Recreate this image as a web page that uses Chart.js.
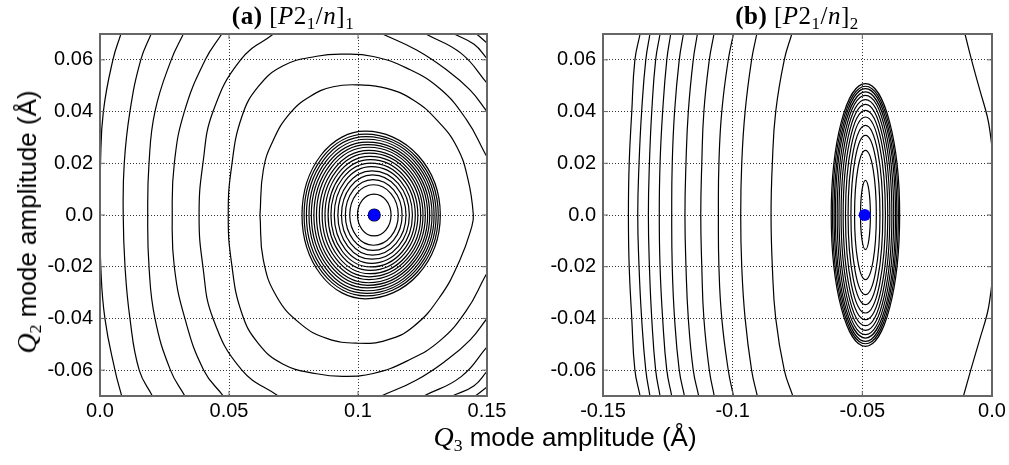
<!DOCTYPE html>
<html>
<head>
<meta charset="utf-8">
<script src="https://cdn.jsdelivr.net/npm/chart.js@4.4.1/dist/chart.umd.min.js"></script>
<style>
  body { margin: 0; background: #fff; }
  #wrap { position: relative; width: 1009px; height: 465px; overflow: hidden; }
  #wrap canvas { position: absolute; left: 0; top: 0; }
  .ttl { position: absolute; top: 2px; transform: translateX(-50%); white-space: nowrap; letter-spacing: 0.5px;
         font-family: 'Liberation Serif', 'DejaVu Serif', serif; font-size: 25px; color: #000; }
  .ax { position: absolute; white-space: nowrap; font-family: 'Liberation Sans', Arial, sans-serif;
        font-size: 26px; color: #000; }
  .q { font-family: 'Liberation Serif', 'DejaVu Serif', serif; font-style: italic; font-size: 28px; }
  sub { font-size: 0.68em; vertical-align: -0.3em; line-height: 0; }
  .ax sub { font-family: 'Liberation Serif', serif; font-style: normal; }
</style>
</head>
<body>
<div id="wrap">
  <canvas id="chartA" width="1009" height="465"></canvas>
  <canvas id="chartB" width="1009" height="465"></canvas>
  <div class="ttl" style="left:293px"><b>(a)</b> [<i>P</i>2<sub>1</sub>/<i>n</i>]<sub>1</sub></div>
  <div class="ttl" style="left:797px"><b>(b)</b> [<i>P</i>2<sub>1</sub>/<i>n</i>]<sub>2</sub></div>
  <div class="ax" style="left:565px; top:421px; transform:translateX(-50%)"><span class="q">Q</span><sub>3</sub> mode amplitude (Å)</div>
  <div class="ax" style="left:27px; top:222px; transform:translate(-50%,-50%) rotate(-90deg)"><span class="q">Q</span><sub>2</sub> mode amplitude (Å)</div>
</div>
<script>
// shared y levels at which the open contours were read
const yLevels = [0.07, 0.06, 0.04, 0.02, 0, -0.02, -0.04, -0.06, -0.07];
const yTicks = [-0.06, -0.04, -0.02, 0, 0.02, 0.04, 0.06];
const yTickLabels = ['-0.06', '-0.04', '-0.02', '0.0', '0.02', '0.04', '0.06'];

// ---- panel (a) ----
const xTicksA = [0, 0.05, 0.1, 0.15];
const xTickLabelsA = ['0.0', '0.05', '0.1', '0.15'];
const minA = { x: 0.1063, y: 0 };
// open contours on the left side, x at each of yLevels
const curvesA = [
  [0.0081, 0.0050, 0.0013, 0.0002, 0.0000, 0.0003, 0.0019, 0.0058, 0.0084],
  [0.0198, 0.0158, 0.0116, 0.0094, 0.0090, 0.0097, 0.0116, 0.0152, 0.0203],
  [0.0323, 0.0276, 0.0213, 0.0190, 0.0185, 0.0190, 0.0213, 0.0273, 0.0329],
  [0.0472, 0.0408, 0.0327, 0.0288, 0.0280, 0.0288, 0.0329, 0.0402, 0.0478],
  [0.0672, 0.0545, 0.0438, 0.0399, 0.0384, 0.0399, 0.0438, 0.0550, 0.0691]
];
// wide contour that leaves through the right edge
const loopA1x = [0.1500, 0.1492, 0.1421, 0.1318, 0.1189, 0.1059, 0.0943, 0.0840, 0.0710, 0.0614, 0.0549, 0.0510, 0.0497,
                 0.0510, 0.0549, 0.0614, 0.0710, 0.0840, 0.0943, 0.1059, 0.1189, 0.1318, 0.1421, 0.1492, 0.1500];
const loopA1y = [0.0225, 0.0239, 0.0368, 0.0488, 0.0568, 0.0613, 0.0622, 0.0614, 0.0577, 0.0497, 0.0378, 0.0187, 0,
                 -0.0187, -0.0378, -0.0497, -0.0577, -0.0614, -0.0624, -0.0613, -0.0565, -0.0486, -0.0368, -0.0239, -0.0225];
// closed contour around the minimum
const loopA2x = [0.0620, 0.0633, 0.0672, 0.0736, 0.0814, 0.0904, 0.1008, 0.1111, 0.1214, 0.1305, 0.1383, 0.1427, 0.1447,
                 0.1441, 0.1395, 0.1318, 0.1214, 0.1111, 0.1001, 0.0879, 0.0775, 0.0685, 0.0633, 0.0620];
const loopA2y = [0, 0.0174, 0.0290, 0.0393, 0.0458, 0.0496, 0.0503, 0.0490, 0.0445, 0.0368, 0.0264, 0.0135, 0,
                 -0.0045, -0.0174, -0.0316, -0.0432, -0.0484, -0.0496, -0.0477, -0.0419, -0.0316, -0.0174, 0];
// corner contours (top-right and bottom-right)
const cornersA = [
  [[0.1095, 0.07], [0.1227, 0.0638], [0.1344, 0.0561], [0.1434, 0.0484], [0.150, 0.0400]],
  [[0.1263, 0.07], [0.1400, 0.0625], [0.150, 0.0510]],
  [[0.1373, 0.07], [0.1450, 0.0660], [0.150, 0.0605]],
  [[0.1460, 0.07], [0.150, 0.0665]],
  [[0.1090, -0.07], [0.1227, -0.0638], [0.1344, -0.0561], [0.1434, -0.0484], [0.150, -0.0400]],
  [[0.1255, -0.07], [0.1400, -0.0625], [0.150, -0.0510]],
  [[0.1365, -0.07], [0.1450, -0.0660], [0.150, -0.0605]],
  [[0.1455, -0.07], [0.150, -0.0665]]
];
// dense rings: x where the ring is highest, left extent, right extent, half height
const ringTopA = [0.1063, 0.1062, 0.1060, 0.1058, 0.1056, 0.1054, 0.1052, 0.1050, 0.1048, 0.1046,
                  0.1044, 0.1042, 0.1040, 0.1038, 0.1036, 0.1034, 0.1032, 0.1030, 0.1028];
const ringLeftA = [0.1040, 0.0998, 0.0968, 0.0951, 0.0936, 0.0922, 0.0908, 0.0895, 0.0884, 0.0872,
                   0.0861, 0.0850, 0.0839, 0.0829, 0.0819, 0.0810, 0.0800, 0.0791, 0.0783];
const ringRightA = [0.1086, 0.1128, 0.1156, 0.1171, 0.1186, 0.1199, 0.1211, 0.1222, 0.1232, 0.1243,
                    0.1252, 0.1261, 0.1270, 0.1278, 0.1287, 0.1295, 0.1303, 0.1311, 0.1319];
const ringHalfA = [0.0023, 0.0081, 0.0117, 0.0137, 0.0155, 0.0171, 0.0187, 0.0201, 0.0214, 0.0227,
                   0.0239, 0.0250, 0.0262, 0.0272, 0.0282, 0.0293, 0.0303, 0.0313, 0.0324];

// ---- panel (b) ----
const xTicksB = [-0.15, -0.1, -0.05, 0];
const xTickLabelsB = ['-0.15', '-0.1', '-0.05', '0.0'];
const minB = { x: -0.0491, y: 0 };
const curvesB = [
  [-0.1357, -0.1377, -0.1389, -0.1399, -0.1402, -0.1399, -0.1389, -0.1377, -0.1357],
  [-0.1319, -0.1335, -0.1351, -0.1361, -0.1366, -0.1361, -0.1351, -0.1335, -0.1319],
  [-0.1280, -0.1297, -0.1312, -0.1321, -0.1325, -0.1321, -0.1312, -0.1297, -0.1280],
  [-0.1239, -0.1254, -0.1270, -0.1280, -0.1283, -0.1280, -0.1270, -0.1254, -0.1235],
  [-0.1190, -0.1206, -0.1224, -0.1233, -0.1235, -0.1233, -0.1224, -0.1206, -0.1186],
  [-0.1136, -0.1152, -0.1171, -0.1180, -0.1184, -0.1180, -0.1171, -0.1152, -0.1131],
  [-0.1072, -0.1090, -0.1111, -0.1119, -0.1123, -0.1119, -0.1111, -0.1090, -0.1071],
  [-0.0997, -0.1017, -0.1042, -0.1053, -0.1055, -0.1053, -0.1042, -0.1017, -0.0997],
  [-0.0907, -0.0927, -0.0952, -0.0965, -0.0969, -0.0965, -0.0952, -0.0927, -0.0905],
  [-0.0772, -0.0801, -0.0834, -0.0847, -0.0852, -0.0847, -0.0834, -0.0801, -0.0768]
];
const cornersB = [
  [[-0.0104, 0.07], [-0.0079, 0.06], [-0.0046, 0.048], [-0.0018, 0.038], [-0.0006, 0.031], [0.0, 0.026]],
  [[-0.0110, -0.07], [-0.0082, -0.06], [-0.0047, -0.048], [-0.0018, -0.038], [-0.0006, -0.031], [0.0, -0.026]]
];
const ringTopB = [-0.0488, -0.0488, -0.0488, -0.0488, -0.0488, -0.0488, -0.0488,
                  -0.0488, -0.0488, -0.0488, -0.0488, -0.0488, -0.0488];
const ringLeftB = [-0.0507, -0.0530, -0.0544, -0.0555, -0.0565, -0.0574, -0.0582, -0.0590, -0.0597, -0.0604, -0.0609, -0.0615, -0.0620];
const ringRightB = [-0.0469, -0.0446, -0.0432, -0.0421, -0.0411, -0.0402, -0.0394, -0.0386, -0.0379, -0.0372, -0.0367, -0.0361, -0.0356];
const ringHalfB = [0.0134, 0.0250, 0.0308, 0.0347, 0.0379, 0.0405, 0.0428, 0.0446, 0.0463, 0.0476, 0.0489, 0.0498, 0.0508];

const tickFont = { family: "'Liberation Sans', Arial, sans-serif", size: 20 };

function line(points) {
  return { data: points, showLine: true, borderColor: '#000', borderWidth: 1.2,
           pointRadius: 0, tension: 0.45, capBezierPoints: false, fill: false };
}
function dot(p) {
  return { data: [p], pointRadius: 6, backgroundColor: '#0000ff', borderColor: '#0000ff', borderWidth: 0 };
}

// draws the dense rings around the minimum, then the frame with inner ticks
const contourRings = {
  id: 'contourRings',
  beforeDatasetsDraw(chart, args, o) {
    const { ctx, chartArea: a, scales: { x, y } } = chart;
    ctx.save();
    ctx.beginPath();
    ctx.rect(a.left, a.top, a.right - a.left, a.bottom - a.top);
    ctx.clip();
    ctx.strokeStyle = '#000';
    ctx.lineWidth = 1.2;
    const cy = y.getPixelForValue(0);
    o.left.forEach((l, i) => {
      const cx = x.getPixelForValue(o.top[i]);
      const rl = cx - x.getPixelForValue(l);
      const rr = x.getPixelForValue(o.right[i]) - cx;
      const ry = cy - y.getPixelForValue(o.half[i]);
      ctx.beginPath();
      ctx.ellipse(cx, cy, rr, ry, 0, -Math.PI / 2, Math.PI / 2);
      ctx.ellipse(cx, cy, rl, ry, 0, Math.PI / 2, Math.PI * 1.5);
      ctx.closePath();
      ctx.stroke();
    });
    ctx.restore();
  },
  afterDraw(chart) {
    const { ctx, chartArea: a, scales: { x, y } } = chart;
    ctx.save();
    ctx.strokeStyle = '#666';
    ctx.lineWidth = 2;
    ctx.strokeRect(a.left, a.top, a.right - a.left, a.bottom - a.top);
    ctx.lineWidth = 1;
    ctx.beginPath();
    x.ticks.forEach(t => {
      const px = x.getPixelForValue(t.value);
      ctx.moveTo(px, a.bottom); ctx.lineTo(px, a.bottom - 5);
      ctx.moveTo(px, a.top); ctx.lineTo(px, a.top + 5);
    });
    y.ticks.forEach(t => {
      const py = y.getPixelForValue(t.value);
      ctx.moveTo(a.left, py); ctx.lineTo(a.left + 5, py);
      ctx.moveTo(a.right, py); ctx.lineTo(a.right - 5, py);
    });
    ctx.stroke();
    ctx.restore();
  }
};

function makeChart(id, cfg) {
  const datasets = [];
  cfg.curves.forEach(xs => datasets.push(line(xs.map((v, i) => ({ x: v, y: yLevels[i] })))));
  cfg.loops.forEach(([xs, ys]) => datasets.push(line(xs.map((v, i) => ({ x: v, y: ys[i] })))));
  cfg.corners.forEach(c => datasets.push(line(c.map(([px, py]) => ({ x: px, y: py })))));
  datasets.push(dot(cfg.min));
  return new Chart(document.getElementById(id), {
    type: 'scatter',
    data: { datasets },
    plugins: [contourRings],
    options: {
      responsive: false,
      animation: false,
      events: [],
      layout: { padding: cfg.padding },
      plugins: {
        legend: { display: false },
        tooltip: { enabled: false },
        contourRings: cfg.rings
      },
      scales: {
        x: {
          type: 'linear', min: cfg.xTicks[0], max: cfg.xTicks[cfg.xTicks.length - 1],
          afterFit: s => { s.height = 30; },
          afterBuildTicks: s => { s.ticks = cfg.xTicks.map(v => ({ value: v })); },
          ticks: { callback: (v, i) => cfg.xLabels[i], font: tickFont, color: '#000', padding: 3,
                   maxRotation: 0, autoSkip: false },
          grid: { color: '#333', lineWidth: 1, drawTicks: false },
          border: { display: false, dash: [1, 2] }
        },
        y: {
          type: 'linear', min: -0.07, max: 0.07,
          afterFit: s => { s.width = cfg.yWidth; },
          afterBuildTicks: s => { s.ticks = yTicks.map(v => ({ value: v })); },
          ticks: { callback: (v, i) => yTickLabels[i], font: tickFont, color: '#000', padding: 7,
                   autoSkip: false },
          grid: { color: '#333', lineWidth: 1, drawTicks: false },
          border: { display: false, dash: [1, 2] }
        }
      }
    }
  });
}

makeChart('chartA', {
  curves: curvesA,
  loops: [[loopA1x, loopA1y], [loopA2x, loopA2y]],
  corners: cornersA,
  min: minA,
  xTicks: xTicksA, xLabels: xTickLabelsA,
  yWidth: 100,
  padding: { left: 0, right: 1009 - 487, top: 34, bottom: 39 },
  rings: { top: ringTopA, left: ringLeftA, right: ringRightA, half: ringHalfA }
});

makeChart('chartB', {
  curves: curvesB,
  loops: [],
  corners: cornersB,
  min: minB,
  xTicks: xTicksB, xLabels: xTickLabelsB,
  yWidth: 60,
  padding: { left: 603 - 60, right: 1009 - 992, top: 34, bottom: 39 },
  rings: { top: ringTopB, left: ringLeftB, right: ringRightB, half: ringHalfB }
});
</script>
</body>
</html>
